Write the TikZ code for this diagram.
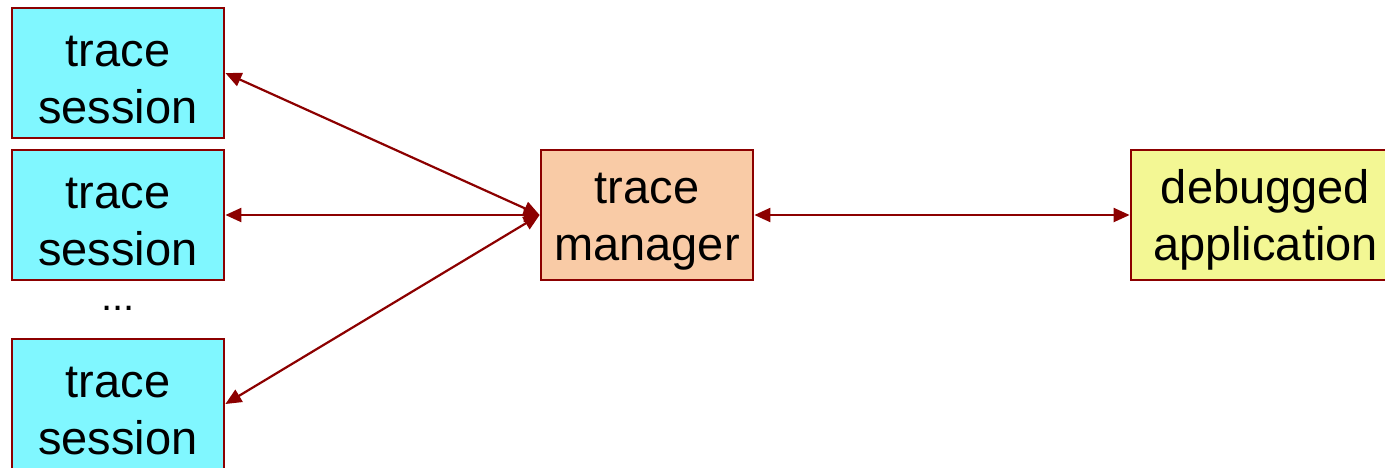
\documentclass[tikz,border=0pt]{standalone}
\usepackage{fontspec}
\setmainfont{Liberation Sans}
\usetikzlibrary{arrows.meta}
\definecolor{bord}{RGB}{140,0,0}
\definecolor{sessfill}{RGB}{128,247,255}
\definecolor{mgrfill}{RGB}{249,203,166}
\definecolor{appfill}{RGB}{243,247,148}
\tikzset{
  box/.style={draw=bord, line width=2.8pt, rectangle, inner sep=0pt, minimum width=212pt, minimum height=130pt, align=center, font=\fontsize{47}{57}\selectfont},
  sess/.style={box, fill=sessfill},
  mgr/.style={box, fill=mgrfill},
  app/.style={box, fill=appfill, minimum width=269pt},
  conn/.style={draw=bord, line width=2.2pt, {Triangle[length=16pt,width=14pt]}-{Triangle[length=16pt,width=14pt]}}
}
\newcommand{\lowr}{\rule{0pt}{44pt}}
\begin{document}
\begin{tikzpicture}[x=1pt,y=-1pt]
\useasboundingbox (0,0) rectangle (1385,467);
\node[sess] (s1) at (118,73) {\lowr trace\\session};
\node[sess] (s2) at (118,215) {\lowr trace\\session};
\node[sess] (s3) at (118,404) {\lowr trace\\session};
\node[font=\fontsize{40}{48}\selectfont] (dots) at (118,308) {...};
\node[mgr] (m) at (647,215) {\lowr trace\\manager};
\node[app] (d) at (1265.5,215) {\lowr debugged\\application};
\draw[conn] (s1.east) -- (m.west);
\draw[conn] (s2.east) -- (m.west);
\draw[conn] (s3.east) -- (m.west);
\draw[conn] (m.east) -- (d.west);
\end{tikzpicture}
\end{document}
